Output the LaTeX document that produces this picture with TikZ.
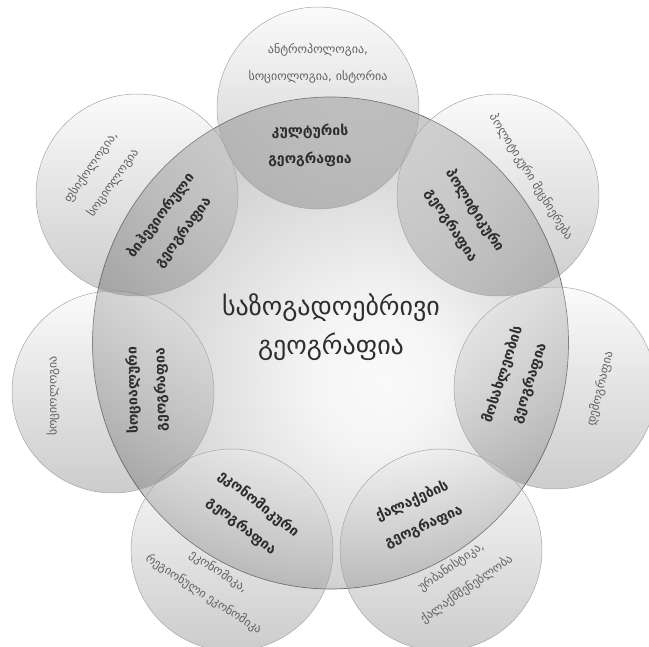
\documentclass[tikz,border=0pt]{standalone}
\usepackage{fontspec}
\usepackage{tikz}
\usetikzlibrary{shapes.geometric}
\newfontfamily\geo{DejaVu Sans}
\pgfdeclareradialshading{bigglow}{\pgfpoint{6bp}{-4bp}}
  {color(0bp)=(black!2); color(7bp)=(black!4); color(22bp)=(black!17); color(32bp)=(black!28); color(45bp)=(black!32)}
\tikzset
  {sat/.style={circle, minimum size=202pt, inner sep=0pt, outer sep=0pt, draw=black!35, line width=0.5pt,
               top color=black!6, bottom color=black!66, fill opacity=0.3},
   inlab/.style={text=black!82, font=\geo\bfseries\fontsize{14}{28}\selectfont, align=center},
   outlab/.style={text=black!62, font=\geo\fontsize{12}{27}\selectfont, align=center}}
\newcommand{\twolines}[2]{#1\\#2}

\begin{document}
\begin{tikzpicture}[x=1pt,y=-1pt]
 \useasboundingbox (0,0) rectangle (649,647);

 % the big circle
 \draw (330.5,343) node[ellipse, minimum width=476pt, minimum height=492pt, inner sep=0pt,
                        shade, shading=bigglow, draw=black!60, line width=0.7pt] (geo) {};

 % the seven neighbours
 \draw (318,108) node[sat] (cult) {};
 \draw (498,195) node[sat] (pol)  {};
 \draw (555,388) node[sat] (pop)  {};
 \draw (441,550) node[sat] (city) {};
 \draw (232,550) node[sat] (econ) {};
 \draw (113,392) node[sat] (soc)  {};
 \draw (137,195) node[sat] (beh)  {};

 \node[text=black!82, font=\geo\fontsize{26}{39}\selectfont, align=center] (title) at (331,327)
      {\twolines{საზოგადოებრივი}{გეოგრაფია}};

 % inner labels
 \node[inlab]             (cultin) at (310,145) {\twolines{კულტურის}{გეოგრაფია}};
 \node[inlab, rotate=-57] (polin)  at (463,218) {\twolines{პოლიტიკური}{გეოგრაფია}};
 \node[inlab, rotate=72]  (popin)  at (516,379) {\twolines{მოსახლეობის}{გეოგრაფია}};
 \node[inlab, rotate=24]  (cityin) at (418,514) {\twolines{ქალაქების}{გეოგრაფია}};
 \node[inlab, rotate=-38] (econin) at (250,515) {\twolines{ეკონომიკური}{გეოგრაფია}};
 \node[inlab, rotate=91]  (socin)  at (147,390) {\twolines{სოციალური}{გეოგრაფია}};
 \node[inlab, rotate=53]  (behin)  at (172,224) {\twolines{ბიჰევიორული}{გეოგრაფია}};

 % outer labels
 \node[outlab]             (cultout) at (318,63)  {\twolines{ანტროპოლოგია,}{სოციოლოგია, ისტორია}};
 \node[outlab, rotate=-58] (polout)  at (531,177) {პოლიტიკური მეცნიერება};
 \node[outlab, rotate=76]  (popout)  at (600,389) {დემოგრაფია};
 \node[outlab, rotate=35]  (cityout) at (459,578) {\twolines{ურბანისტიკა,}{ქალაქმშენებლობა}};
 \node[outlab, rotate=-33] (econout) at (211,583) {\twolines{ეკონომიკა,}{რეგიონული ეკონომიკა}};
 \node[outlab, rotate=90]  (socout)  at (53,396)  {სოციოლოგია};
 \node[outlab, rotate=55]  (behout)  at (102,175) {\twolines{ფსიქოლოგია,}{სოციოლოგია}};
\end{tikzpicture}
\end{document}
